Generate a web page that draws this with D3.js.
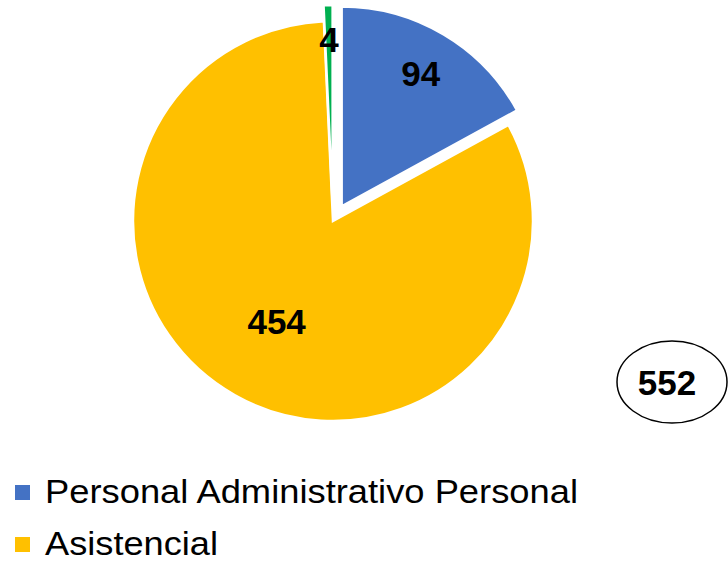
<!DOCTYPE html>
<html>
<head>
<meta charset="utf-8">
<script src="https://cdn.jsdelivr.net/npm/d3@7"></script>
<style>
  html, body { margin: 0; padding: 0; background: #fff; }
  svg { display: block; }
</style>
</head>
<body>
<svg id="chart" width="728" height="562"></svg>
<script>
// Staff counts per group (clockwise from 12 o'clock)
const values = [94, 454, 4];
const colors = ["#4472C4", "#FFC000", "#00B050"];
const legendLabels = ["Personal Administrativo Personal", "Asistencial"];
const totalLabel = "552";

const svg = d3.select("#chart");
const cx = 333, cy = 221, R = 200;

// How far each slice is pulled out, and where its label sits
const explode = [17, 0, 16];
const labelRadius = [155, 115, 166];

const pie = d3.pie().sort(null).startAngle(0).endAngle(2 * Math.PI);
const arcs = pie(values);
const arc = d3.arc().innerRadius(0).outerRadius(R);

const g = svg.append("g").attr("transform", `translate(${cx},${cy})`);

const slice = g.selectAll("g.slice")
  .data(arcs)
  .join("g")
  .attr("class", "slice")
  .attr("transform", (d, i) => {
    const a = (d.startAngle + d.endAngle) / 2;
    return `translate(${explode[i] * Math.sin(a)},${-explode[i] * Math.cos(a)})`;
  });

slice.append("path")
  .attr("d", arc)
  .attr("fill", (d, i) => colors[i])
  .attr("stroke", "#fff")
  .attr("stroke-width", 2.5)
  .attr("stroke-linejoin", "miter");

slice.append("text")
  .attr("x", (d, i) => labelRadius[i] * Math.sin((d.startAngle + d.endAngle) / 2))
  .attr("y", (d, i) => -labelRadius[i] * Math.cos((d.startAngle + d.endAngle) / 2))
  .attr("text-anchor", "middle")
  .attr("dominant-baseline", "central")
  .attr("font-family", "'Liberation Sans', Arial, sans-serif")
  .attr("font-weight", "bold")
  .attr("font-size", 35)
  .attr("fill", "#000")
  .text(d => d.value);

// Total badge
const badge = svg.append("g").attr("transform", "translate(672,382)");
badge.append("ellipse")
  .attr("rx", 55).attr("ry", 41)
  .attr("fill", "#fff").attr("stroke", "#000").attr("stroke-width", 1.5);
badge.append("text")
  .attr("x", -5)
  .attr("text-anchor", "middle")
  .attr("dominant-baseline", "central")
  .attr("font-family", "'Liberation Sans', Arial, sans-serif")
  .attr("font-weight", "bold")
  .attr("font-size", 35)
  .text(totalLabel);

// Legend
const legendWidths = [533, 173];
const legend = svg.append("g").attr("transform", "translate(15,485)");
const item = legend.selectAll("g.item")
  .data(legendLabels)
  .join("g")
  .attr("class", "item")
  .attr("transform", (d, i) => `translate(0,${i * 52})`);
item.append("rect")
  .attr("width", 15).attr("height", 15)
  .attr("fill", (d, i) => colors[i]);
item.append("text")
  .attr("x", 30).attr("y", 18)
  .attr("font-family", "'Liberation Sans', Arial, sans-serif")
  .attr("font-size", 34)
  .attr("fill", "#000")
  .attr("textLength", (d, i) => legendWidths[i])
  .attr("lengthAdjust", "spacingAndGlyphs")
  .text(d => d);
</script>
</body>
</html>
